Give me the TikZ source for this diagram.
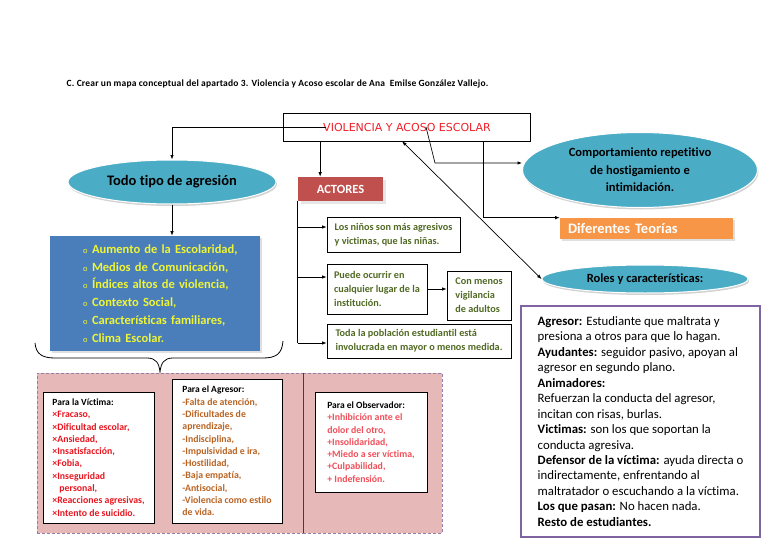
\documentclass[tikz,border=0pt]{standalone}
\usepackage{fontspec}
\setmainfont{Carlito}[Ligatures=CommonOff]
\newfontfamily\rotulo{DejaVu Sans}
\usepackage{tikz}
\usetikzlibrary{shapes.geometric, arrows.meta, positioning, shadows}

\definecolor{tealfill}{RGB}{75,172,198}
\definecolor{causablue}{RGB}{74,126,187}
\definecolor{causayellow}{RGB}{238,245,55}
\definecolor{actred}{RGB}{192,80,77}
\definecolor{actgreen}{RGB}{80,105,35}
\definecolor{teoorange}{RGB}{247,150,70}
\definecolor{pinkfill}{RGB}{230,185,184}
\definecolor{dashgray}{RGB}{150,125,170}
\definecolor{titlered}{RGB}{240,30,40}
\definecolor{victred}{RGB}{232,22,32}
\definecolor{agrbrown}{RGB}{185,100,35}
\definecolor{obsred}{RGB}{240,80,90}
\definecolor{rolepurple}{RGB}{128,100,162}

\newcommand{\fsz}[2]{\fontsize{#1}{#2}\selectfont}

\begin{document}
\begin{tikzpicture}[x=1pt,y=-1pt,>={Latex[length=4.5pt,width=3.5pt]},line width=0.7pt,
  oval/.style={ellipse,fill=tealfill,draw=white,line width=1pt,inner sep=0pt,
    drop shadow={opacity=0.35,shadow xshift=1pt,shadow yshift=-2pt}},
  greenbox/.style={draw,line width=0.8pt,align=left,text=actgreen,
    font=\fsz{10.2}{14}\bfseries,inner xsep=5pt},
  listbox/.style={draw,fill=white,line width=0.8pt,align=left,
    font=\fsz{9.8}{12.3}\bfseries},
  pinkzone/.style={fill=pinkfill,draw=dashgray,dash pattern=on 3pt off 2pt,inner sep=0pt}]
\useasboundingbox (0,0) rectangle (768,543);

% Enunciado
\node[anchor=west,font=\fsz{9.5}{11}\bfseries\addfontfeature{LetterSpace=2}] (enunciado) at (63,84)
  {C. Crear un mapa conceptual del apartado 3. Violencia y Acoso escolar de Ana \ Emilse González Vallejo.};

% Tema central
\node[draw,minimum width=247,minimum height=28,inner sep=0pt,text=titlered,
  font=\rotulo\fsz{11}{13}] (tema) at (407,127) {VIOLENCIA Y ACOSO ESCOLAR};

% Rama izquierda
\node[oval,minimum width=208,minimum height=44,font=\fsz{14.5}{16}\bfseries]
  (agresion) at (172,182) {Todo tipo de agresión};
\node[fill=causablue,text=causayellow,minimum height=115,text width=210,inner sep=0pt,
  align=left,font=\fsz{12.5}{17.7}\bfseries,
  drop shadow={opacity=0.25,shadow xshift=2pt,shadow yshift=-2pt}] (causas) at (155,293.5)
  {\hspace*{33pt}\makebox[9pt][l]{\mdseries\fsz{8.5}{10}o}Aumento de la Escolaridad,\\
   \hspace*{33pt}\makebox[9pt][l]{\mdseries\fsz{8.5}{10}o}Medios de Comunicación,\\
   \hspace*{33pt}\makebox[9pt][l]{\mdseries\fsz{8.5}{10}o}Índices altos de violencia,\\
   \hspace*{33pt}\makebox[9pt][l]{\mdseries\fsz{8.5}{10}o}Contexto Social,\\
   \hspace*{33pt}\makebox[9pt][l]{\mdseries\fsz{8.5}{10}o}Características familiares,\\
   \hspace*{33pt}\makebox[9pt][l]{\mdseries\fsz{8.5}{10}o}Clima Escolar.};

% Llave
\draw[line width=0.8pt] (35,343) .. controls (36,354) and (42,358) .. (55,358) -- (147,358)
  .. controls (156,358) and (159,363) .. (160,372) .. controls (161,363) and (164,358) .. (173,358)
  -- (263,358) .. controls (276,358) and (282,354) .. (283,341);

% Consecuencias
\node[pinkzone,minimum width=266,minimum height=160] (zonaA) at (170,453) {};
\node[pinkzone,minimum width=139,minimum height=160] (zonaB) at (372.5,453) {};
\draw[line width=1pt,black!75] (zonaA.north east) -- (zonaA.south east);

\node[listbox,text=victred,minimum width=111,minimum height=131] (victima) at (98.5,457.5)
  {{\color{black}\fsz{9.5}{12.3}Para la Víctima:}\\
   ×Fracaso,\\ ×Dificultad escolar,\\ ×Ansiedad,\\ ×Insatisfacción,\\ ×Fobia,\\
   ×Inseguridad\\ \hspace*{7pt}personal,\\ ×Reacciones agresivas,\\ ×Intento de suicidio.};
\node[listbox,text=agrbrown,minimum width=110,minimum height=144] (agresor) at (227,451)
  {{\color{black}\fsz{9.5}{12.3}Para el Agresor:}\\
   -Falta de atención,\\ -Dificultades de\\ aprendizaje,\\ -Indisciplina,\\
   -Impulsividad e ira,\\ -Hostilidad,\\ -Baja empatía,\\ -Antisocial,\\
   -Violencia como estilo\\ de vida.};
\node[listbox,text=obsred,minimum width=112,minimum height=100] (observador) at (371,442)
  {{\color{black}\fsz{9.5}{12.3}Para el Observador:}\\
   +Inhibición ante el\\ dolor del otro,\\ +Insolidaridad,\\ +Miedo a ser víctima,\\
   +Culpabilidad,\\ + Indefensión.};

% Actores
\node[fill=actred,text=white,minimum width=85,minimum height=24,inner sep=0pt,
  font=\fsz{12.5}{14}\bfseries,
  drop shadow={opacity=0.2,shadow xshift=3pt,shadow yshift=-3pt}] (actores) at (340.5,189) {ACTORES};
\node[greenbox,minimum width=133,minimum height=35] (ninos) at (393.5,234.5)
  {Los niños son más agresivos\\ y victimas, que las niñas.};
\node[greenbox,minimum width=100,minimum height=50] (lugar) at (377,289)
  {Puede ocurrir en\\ cualquier lugar de la\\ institución.};
\node[greenbox,minimum width=64,minimum height=49] (vigilancia) at (479,295.5)
  {Con menos\\ vigilancia\\ de adultos};
\node[greenbox,minimum width=184,minimum height=34] (poblacion) at (419,341)
  {Toda la población estudiantil está\\ involucrada en mayor o menos medida.};

% Rama derecha
\node[oval,minimum width=235,minimum height=75,align=center,font=\fsz{12.5}{17.5}\bfseries]
  (comportamiento) at (640,170) {Comportamiento repetitivo\\ de hostigamiento e\\ intimidación.};
\node[fill=teoorange,text=white,minimum height=21,text width=157,inner xsep=8pt,inner ysep=0pt,
  align=left,font=\fsz{14.5}{16}\bfseries,
  drop shadow={opacity=0.25,shadow xshift=2pt,shadow yshift=-2pt}] (teorias) at (646.5,228.5)
  {Diferentes Teorías};
\node[oval,minimum width=206,minimum height=28,font=\fsz{12.5}{14}\bfseries]
  (roles) at (645,279) {Roles y características:};
\node[draw=rolepurple,line width=2.5pt,fill=white,minimum width=239,minimum height=231,
  align=left,inner sep=0pt,font=\fsz{12.8}{15.45}] (tiposroles) at (640.5,421.5)
  {\textbf{Agresor:} Estudiante que maltrata y\\
   presiona a otros para que lo hagan.\\
   \textbf{Ayudantes:} seguidor pasivo, apoyan al\\
   agresor en segundo plano.\\
   \textbf{Animadores:}\\
   Refuerzan la conducta del agresor,\\
   incitan con risas, burlas.\\
   \textbf{Victimas:} son los que soportan la\\
   conducta agresiva.\\
   \textbf{Defensor de la víctima:} ayuda directa o\\
   indirectamente, enfrentando al\\
   maltratador o escuchando a la víctima.\\
   \textbf{Los que pasan:} No hacen nada.\\
   \textbf{Resto de estudiantes.}};

% Conectores
\draw[->] ([xshift=43pt]tema.west) -| (agresion.north);
\draw[->] (agresion.south) -- (agresion.south |- causas.north);
\coordinate (t1) at ([xshift=37pt]tema.south west);
\draw[->] (t1) -- (t1 |- actores.north);
\coordinate (t2) at ([xshift=19pt]tema.center);
\coordinate (t3) at ([xshift=28pt,yshift=-36pt]tema.center);
\draw[->] (t2) -- (t3) -- (t3 -| comportamiento.west);
\coordinate (t4) at ([xshift=200pt]tema.south west);
\draw[->] (t4) |- (teorias.north west);
\coordinate (t5) at ([xshift=119pt]tema.south west);
\draw[<->] (t5) -- (roles.west);

\coordinate (b1) at ([yshift=7.5pt]ninos.west);
\coordinate (b2) at ([yshift=12pt]lugar.west);
\coordinate (b3) at ([yshift=-2pt]poblacion.west);
\draw (actores.south west) -- (actores.south west |- b3);
\foreach \b in {b1,b2,b3} \draw[->] (actores.south west |- \b) -- (\b);
\draw[->] (lugar.east) -- (lugar.east -| vigilancia.west);
\end{tikzpicture}
\end{document}
